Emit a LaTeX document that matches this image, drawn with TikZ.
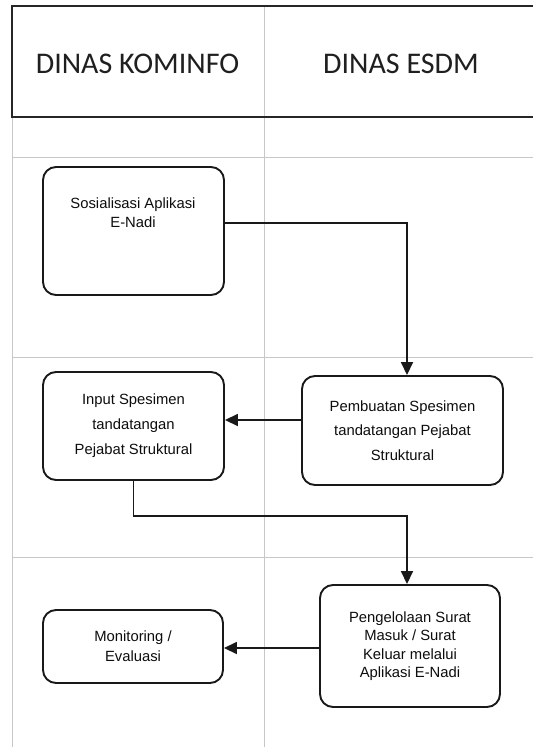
\documentclass[tikz,border=0pt]{standalone}
\usepackage{fontspec}
\setmainfont{Liberation Sans}
\newfontfamily\hdrfont{Carlito}
\usetikzlibrary{arrows.meta,calc}
\begin{document}
\begin{tikzpicture}[x=1pt,y=-1pt,
  grid/.style={draw=black!22,line width=0.6pt},
  hdr/.style={draw=black!85,line width=1.4pt},
  procbox/.style={draw=black!90,line width=1.9pt,rounded corners=13pt,fill=none,inner sep=0pt},
  boxtext/.style={align=center,text=black!95,inner sep=0pt},
  flow/.style={draw=black!90,line width=1.6pt,-{Triangle[length=13pt,width=12pt]}},
  hdrtext/.style={font=\hdrfont\fontsize{30}{36}\selectfont,text=black!88,inner sep=0pt}]
\useasboundingbox[fill=white] (0,0) rectangle (533,747);
% grid
\draw[grid] (12,157) -- (533,157);
\draw[grid] (12,357) -- (533,357);
\draw[grid] (12,557) -- (533,557);
\draw[grid] (12,117) -- (12,747);
\draw[grid] (264,6) -- (264,747);
% header frame
\draw[hdr] (533,6) -- (12,6) -- (12,117) -- (533,117);
\node[hdrtext] (h1) at (137.5,64) {DINAS KOMINFO};
\node[hdrtext] (h2) at (401,64) {DINAS ESDM};
% boxes
\node[procbox,minimum width=181pt,minimum height=128pt] (b1) at (133.5,231) {};
\node[boxtext,font=\fontsize{14.8}{19}\selectfont] (t1) at (133,213) {Sosialisasi Aplikasi\\E-Nadi};
\node[procbox,minimum width=201pt,minimum height=109pt,boxtext,font=\fontsize{14.8}{24.5}\selectfont] (b2) at (402.5,430.5) {Pembuatan Spesimen\\tandatangan Pejabat\\Struktural};
\node[procbox,minimum width=181pt,minimum height=108pt,boxtext,font=\fontsize{14.8}{25}\selectfont] (b3) at (133.5,426) {Input Spesimen\\tandatangan\\Pejabat Struktural};
\node[procbox,minimum width=180pt,minimum height=122pt,boxtext,font=\fontsize{14.8}{18.4}\selectfont] (b4) at (410,646) {Pengelolaan Surat\\Masuk / Surat\\Keluar melalui\\Aplikasi E-Nadi};
\node[procbox,minimum width=180pt,minimum height=73pt,boxtext,font=\fontsize{14.8}{20}\selectfont] (b5) at (133,646.5) {Monitoring /\\Evaluasi};
% connectors
\coordinate (k3) at ($(b3.south)+(0,35)$);
\draw[flow] (b1.east |- 0,223) -| ([xshift=4.5pt]b2.north);
\draw[flow] (b2.west |- 0,420) -- (b3.east |- 0,420);
\draw[flow] (b3.south) -- (k3) -| ([xshift=-3pt]b4.north);
\draw[flow] (b4.west |- 0,648) -- (b5.east |- 0,648);
\end{tikzpicture}
\end{document}
